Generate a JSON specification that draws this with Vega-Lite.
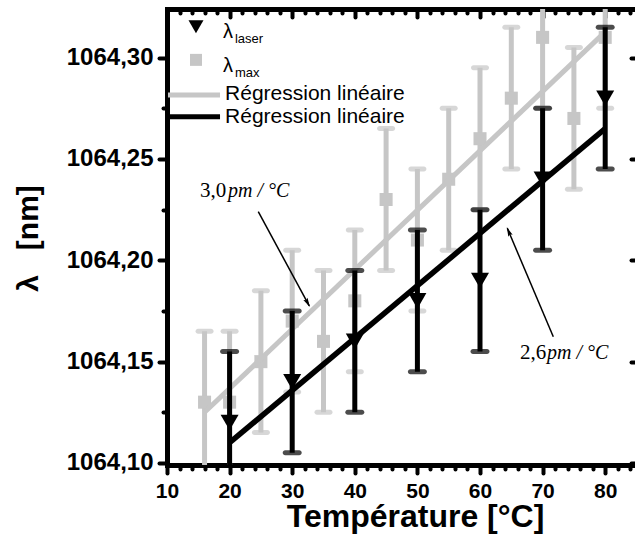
{
  "$schema": "https://vega.github.io/schema/vega-lite/v6.json",
  "width": 468,
  "height": 456,
  "autosize": {"type": "none"},
  "padding": {"left": 167, "top": 9, "right": 0, "bottom": 71},
  "background": "white",
  "config": {
    "view": {"stroke": null},
    "axis": {
      "grid": false,
      "domainColor": "black",
      "tickColor": "black",
      "labelColor": "black",
      "titleColor": "black",
      "labelFont": "Liberation Sans",
      "titleFont": "Liberation Sans",
      "labelFontWeight": "bold",
      "titleFontWeight": "bold",
      "tickCap": "round",
      "domainCap": "square",
      "labelFlush": false,
      "labelOverlap": false,
      "labelBound": false,
      "zindex": 1
    }
  },
  "datasets": {
    "max": [
      {"t": 16, "v": 1064.13, "lo": 1064.095, "hi": 1064.165},
      {"t": 20, "v": 1064.13, "lo": 1064.095, "hi": 1064.165},
      {"t": 25, "v": 1064.15, "lo": 1064.115, "hi": 1064.185},
      {"t": 30, "v": 1064.17, "lo": 1064.135, "hi": 1064.205},
      {"t": 35, "v": 1064.16, "lo": 1064.125, "hi": 1064.195},
      {"t": 40, "v": 1064.18, "lo": 1064.145, "hi": 1064.215},
      {"t": 45, "v": 1064.23, "lo": 1064.195, "hi": 1064.265},
      {"t": 50, "v": 1064.21, "lo": 1064.175, "hi": 1064.245},
      {"t": 55, "v": 1064.24, "lo": 1064.205, "hi": 1064.275},
      {"t": 60, "v": 1064.26, "lo": 1064.225, "hi": 1064.295},
      {"t": 65, "v": 1064.28, "lo": 1064.245, "hi": 1064.315},
      {"t": 70, "v": 1064.31, "lo": 1064.275, "hi": 1064.345},
      {"t": 75, "v": 1064.27, "lo": 1064.235, "hi": 1064.305},
      {"t": 80, "v": 1064.31, "lo": 1064.275, "hi": 1064.345}
    ],
    "laser": [
      {"t": 20, "v": 1064.12, "lo": 1064.085, "hi": 1064.155},
      {"t": 30, "v": 1064.14, "lo": 1064.105, "hi": 1064.175},
      {"t": 40, "v": 1064.16, "lo": 1064.125, "hi": 1064.195},
      {"t": 50, "v": 1064.18, "lo": 1064.145, "hi": 1064.215},
      {"t": 60, "v": 1064.19, "lo": 1064.155, "hi": 1064.225},
      {"t": 70, "v": 1064.24, "lo": 1064.205, "hi": 1064.275},
      {"t": 80, "v": 1064.28, "lo": 1064.245, "hi": 1064.315}
    ],
    "fitmax": [{"t": 16, "v": 1064.125}, {"t": 80, "v": 1064.3127}],
    "fitlaser": [{"t": 20, "v": 1064.11}, {"t": 80, "v": 1064.265}],
    "legLines": [
      {"t": 10.16, "t2": 18.47, "v": 1064.2816, "series": "max"},
      {"t": 10.16, "t2": 18.47, "v": 1064.2708, "series": "laser"}
    ],
    "legLambda": [
      {"t": 18.95, "v": 1064.3098, "label": "λ"},
      {"t": 18.95, "v": 1064.2930, "label": "λ"}
    ],
    "legSub": [
      {"t": 20.86, "v": 1064.3073, "label": "laser"},
      {"t": 20.86, "v": 1064.2905, "label": "max"}
    ],
    "legText": [
      {"t": 19.27, "v": 1064.2792, "label": "Régression linéaire"},
      {"t": 19.27, "v": 1064.2678, "label": "Régression linéaire"}
    ],
    "annNum": [
      {"t": 15.27, "v": 1064.2313, "label": "3,0"},
      {"t": 66.39, "v": 1064.1513, "label": "2,6"}
    ],
    "annUnit": [
      {"t": 19.74, "v": 1064.2313, "label": "pm / °C"},
      {"t": 70.70, "v": 1064.1513, "label": "pm / °C"}
    ],
    "arrows": [
      {"t": 24.58, "v": 1064.2240, "t2": 32.73, "v2": 1064.1775},
      {"t": 71.71, "v": 1064.1623, "t2": 64.36, "v2": 1064.2158}
    ]
  },
  "resolve": {"axis": {"x": "independent", "y": "independent"}},
  "layer": [
    {
      "data": {"name": "max"},
      "mark": {"type": "rule", "color": "#c6c6c6", "strokeWidth": 5, "clip": true},
      "encoding": {
        "x": {"field": "t", "type": "quantitative", "scale": {"domain": [10, 84.76], "nice": false, "zero": false},
          "axis": {"orient": "bottom", "values": [10, 20, 30, 40, 50, 60, 70, 80], "tickSize": 8, "tickWidth": 4, "domainWidth": 5,
            "labelFontSize": 21, "labelBaseline": "alphabetic", "labelPadding": 24,
            "title": "Température [°C]", "titleFontSize": 32, "titleX": 248, "titleY": 61, "titleBaseline": "alphabetic", "titleAlign": "center", "titleAnchor": null}},
        "y": {"field": "lo", "type": "quantitative", "scale": {"domain": [1064.099, 1064.324], "nice": false, "zero": false},
          "axis": {"orient": "left", "values": [1064.10, 1064.15, 1064.20, 1064.25, 1064.30], "labelExpr": "replace(format(datum.value, '.2f'), '.', ',')",
            "tickSize": 8, "tickWidth": 4, "domainWidth": 5, "labelFontSize": 24, "labelPadding": 6,
            "title": "λ\u00a0\u00a0\u00a0[nm]", "titleFontSize": 30, "titleX": -139, "titleY": 229, "titleAngle": -90, "titleBaseline": "middle", "titleAlign": "center", "titleAnchor": null}},
        "y2": {"field": "hi"}
      }
    },
    {
      "data": {"name": "max"},
      "mark": {"type": "tick", "orient": "horizontal", "color": "#c6c6c6", "size": 18, "thickness": 5, "cornerRadius": 2.5, "clip": true},
      "encoding": {
        "x": {"field": "t", "type": "quantitative", "scale": {"domain": [10, 84.76], "nice": false, "zero": false},
          "axis": {"orient": "bottom", "values": [12, 14, 16, 18, 22, 24, 26, 28, 32, 34, 36, 38, 42, 44, 46, 48, 52, 54, 56, 58, 62, 64, 66, 68, 72, 74, 76, 78, 82, 84],
            "tickSize": 4, "tickWidth": 4, "domain": false, "labels": false, "title": null}},
        "y": {"field": "lo", "type": "quantitative", "scale": {"domain": [1064.099, 1064.324], "nice": false, "zero": false},
          "axis": {"orient": "left", "values": [1064.125, 1064.175, 1064.225, 1064.275], "tickSize": 4, "tickWidth": 4, "domain": false, "labels": false, "title": null}}
      }
    },
    {
      "data": {"name": "max"},
      "mark": {"type": "tick", "orient": "horizontal", "color": "#c6c6c6", "size": 18, "thickness": 5, "cornerRadius": 2.5, "clip": true},
      "encoding": {
        "x": {"field": "t", "type": "quantitative", "scale": {"domain": [10, 84.76], "nice": false, "zero": false},
          "axis": {"orient": "top", "values": [10, 20, 30, 40, 50, 60, 70, 80], "tickSize": -8, "tickWidth": 4, "domainWidth": 5, "labels": false, "title": null}},
        "y": {"field": "hi", "type": "quantitative", "scale": {"domain": [1064.099, 1064.324], "nice": false, "zero": false},
          "axis": {"orient": "right", "values": [1064.10, 1064.15, 1064.20, 1064.25, 1064.30], "tickSize": -4, "tickWidth": 4, "domain": false, "labels": false, "title": null}}
      }
    },
    {
      "data": {"name": "max"},
      "mark": {"type": "point", "shape": "square", "filled": true, "color": "#c6c6c6", "size": 170, "opacity": 1, "clip": true},
      "encoding": {
        "x": {"field": "t", "type": "quantitative", "scale": {"domain": [10, 84.76], "nice": false, "zero": false},
          "axis": {"orient": "top", "values": [12, 14, 16, 18, 22, 24, 26, 28, 32, 34, 36, 38, 42, 44, 46, 48, 52, 54, 56, 58, 62, 64, 66, 68, 72, 74, 76, 78, 82, 84],
            "tickSize": -4, "tickWidth": 4, "domain": false, "labels": false, "title": null}},
        "y": {"field": "v", "type": "quantitative", "scale": {"domain": [1064.099, 1064.324], "nice": false, "zero": false}, "axis": null}
      }
    },
    {
      "data": {"name": "fitmax"},
      "mark": {"type": "line", "color": "#c6c6c6", "strokeWidth": 5, "clip": true},
      "encoding": {
        "x": {"field": "t", "type": "quantitative", "axis": null},
        "y": {"field": "v", "type": "quantitative", "axis": null}
      }
    },
    {
      "data": {"name": "laser"},
      "mark": {"type": "rule", "color": "black", "strokeWidth": 5, "clip": true},
      "encoding": {
        "x": {"field": "t", "type": "quantitative", "axis": null},
        "y": {"field": "lo", "type": "quantitative", "axis": null},
        "y2": {"field": "hi"}
      }
    },
    {
      "data": {"name": "laser"},
      "mark": {"type": "tick", "orient": "horizontal", "color": "black", "size": 19, "thickness": 5, "cornerRadius": 2.5, "clip": true},
      "encoding": {
        "x": {"field": "t", "type": "quantitative", "axis": null},
        "y": {"field": "lo", "type": "quantitative", "axis": null}
      }
    },
    {
      "data": {"name": "laser"},
      "mark": {"type": "tick", "orient": "horizontal", "color": "black", "size": 19, "thickness": 5, "cornerRadius": 2.5, "clip": true},
      "encoding": {
        "x": {"field": "t", "type": "quantitative", "axis": null},
        "y": {"field": "hi", "type": "quantitative", "axis": null}
      }
    },
    {
      "data": {"name": "fitlaser"},
      "mark": {"type": "line", "color": "black", "strokeWidth": 5.5, "clip": true},
      "encoding": {
        "x": {"field": "t", "type": "quantitative", "axis": null},
        "y": {"field": "v", "type": "quantitative", "axis": null}
      }
    },
    {
      "data": {"name": "laser"},
      "mark": {"type": "point", "shape": "triangle-down", "filled": true, "color": "black", "size": 324, "opacity": 1, "clip": true},
      "encoding": {
        "x": {"field": "t", "type": "quantitative", "axis": null},
        "y": {"field": "v", "type": "quantitative", "axis": null}
      }
    },
    {
      "data": {"values": [{"t": 14.63, "v": 1064.3152}]},
      "mark": {"type": "point", "shape": "triangle-down", "filled": true, "color": "black", "size": 225, "opacity": 1},
      "encoding": {
        "x": {"field": "t", "type": "quantitative", "axis": null},
        "y": {"field": "v", "type": "quantitative", "axis": null}
      }
    },
    {
      "data": {"values": [{"t": 14.63, "v": 1064.2989}]},
      "mark": {"type": "point", "shape": "square", "filled": true, "color": "#c6c6c6", "size": 144, "opacity": 1},
      "encoding": {
        "x": {"field": "t", "type": "quantitative", "axis": null},
        "y": {"field": "v", "type": "quantitative", "axis": null}
      }
    },
    {
      "data": {"name": "legLines"},
      "mark": {"type": "rule", "strokeWidth": 5},
      "encoding": {
        "x": {"field": "t", "type": "quantitative", "axis": null},
        "x2": {"field": "t2"},
        "y": {"field": "v", "type": "quantitative", "axis": null},
        "color": {"field": "series", "type": "nominal", "scale": {"domain": ["max", "laser"], "range": ["#c6c6c6", "black"]}, "legend": null}
      }
    },
    {
      "data": {"name": "legLambda"},
      "mark": {"type": "text", "align": "left", "baseline": "alphabetic", "font": "Liberation Sans", "fontSize": 20, "color": "black"},
      "encoding": {
        "x": {"field": "t", "type": "quantitative", "axis": null},
        "y": {"field": "v", "type": "quantitative", "axis": null},
        "text": {"field": "label"}
      }
    },
    {
      "data": {"name": "legSub"},
      "mark": {"type": "text", "align": "left", "baseline": "alphabetic", "font": "Liberation Sans", "fontSize": 13, "color": "black"},
      "encoding": {
        "x": {"field": "t", "type": "quantitative", "axis": null},
        "y": {"field": "v", "type": "quantitative", "axis": null},
        "text": {"field": "label"}
      }
    },
    {
      "data": {"name": "legText"},
      "mark": {"type": "text", "align": "left", "baseline": "alphabetic", "font": "Liberation Sans", "fontSize": 21, "color": "black"},
      "encoding": {
        "x": {"field": "t", "type": "quantitative", "axis": null},
        "y": {"field": "v", "type": "quantitative", "axis": null},
        "text": {"field": "label"}
      }
    },
    {
      "data": {"name": "annNum"},
      "mark": {"type": "text", "align": "left", "baseline": "alphabetic", "font": "Liberation Serif", "fontSize": 21, "color": "black"},
      "encoding": {
        "x": {"field": "t", "type": "quantitative", "axis": null},
        "y": {"field": "v", "type": "quantitative", "axis": null},
        "text": {"field": "label"}
      }
    },
    {
      "data": {"name": "annUnit"},
      "mark": {"type": "text", "align": "left", "baseline": "alphabetic", "font": "Liberation Serif", "fontStyle": "italic", "fontSize": 20, "color": "black"},
      "encoding": {
        "x": {"field": "t", "type": "quantitative", "axis": null},
        "y": {"field": "v", "type": "quantitative", "axis": null},
        "text": {"field": "label"}
      }
    },
    {
      "data": {"name": "arrows"},
      "mark": {"type": "rule", "color": "black", "strokeWidth": 1.5},
      "encoding": {
        "x": {"field": "t", "type": "quantitative", "axis": null},
        "x2": {"field": "t2"},
        "y": {"field": "v", "type": "quantitative", "axis": null},
        "y2": {"field": "v2"}
      }
    },
    {
      "data": {"values": [{"t": 32.43, "v": 1064.1792}]},
      "mark": {"type": "point", "shape": "M0,-1L0.45,0.8L0,0.5L-0.45,0.8Z", "filled": true, "color": "black", "size": 110, "opacity": 1, "angle": 151.6},
      "encoding": {
        "x": {"field": "t", "type": "quantitative", "axis": null},
        "y": {"field": "v", "type": "quantitative", "axis": null}
      }
    },
    {
      "data": {"values": [{"t": 64.61, "v": 1064.2140}]},
      "mark": {"type": "point", "shape": "M0,-1L0.45,0.8L0,0.5L-0.45,0.8Z", "filled": true, "color": "black", "size": 110, "opacity": 1, "angle": 337},
      "encoding": {
        "x": {"field": "t", "type": "quantitative", "axis": null},
        "y": {"field": "v", "type": "quantitative", "axis": null}
      }
    }
  ]
}
